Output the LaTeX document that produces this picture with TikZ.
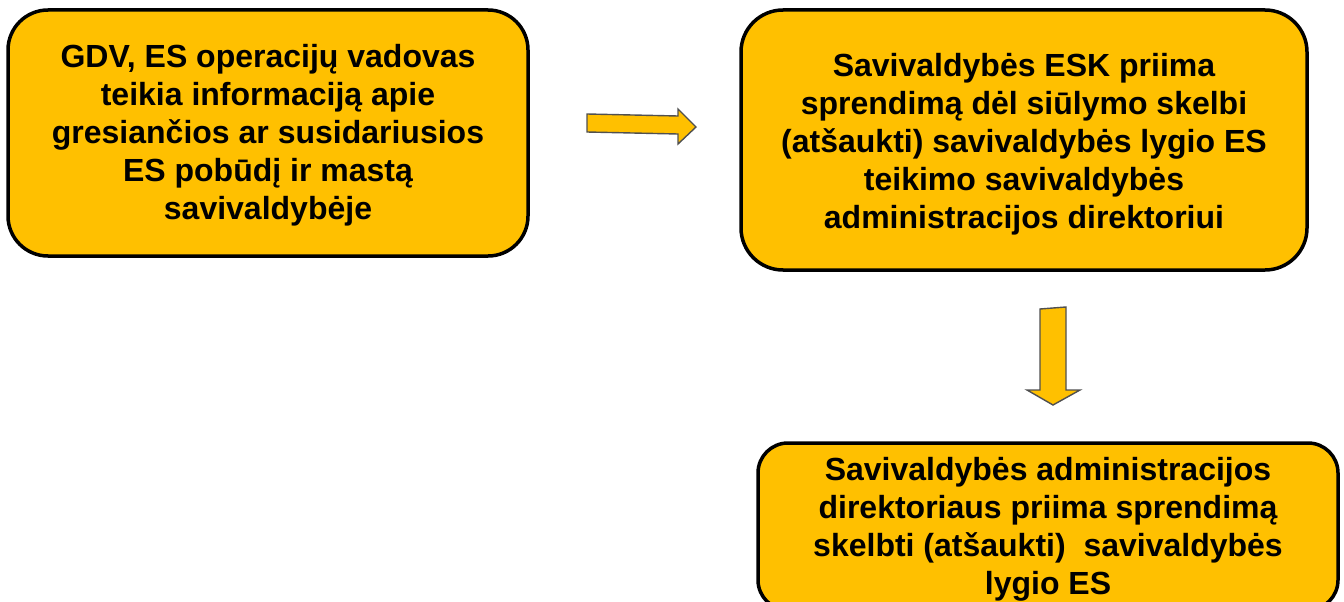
\documentclass[tikz,border=0pt]{standalone}
\usepackage{fontspec}
\setmainfont{Liberation Sans}
\definecolor{gold}{HTML}{FFC000}
\definecolor{arrowedge}{HTML}{505050}
\begin{document}
\begin{tikzpicture}[x=1pt,y=-1pt,
  box/.style={draw=black, line width=3.5pt, fill=gold, inner sep=0pt},
  boxtext/.style={align=center, font=\fontsize{32}{38}\selectfont\bfseries, inner sep=0pt},
  blockarrow/.style={draw=arrowedge, line width=1.4pt, fill=gold, line join=miter}]
\useasboundingbox (0,0) rectangle (1344,602);
\begin{scope}
\clip (0,0) rectangle (1344,602);
\node[box, rounded corners=40pt, minimum width=520pt, minimum height=246pt] (b1) at (268,133) {};
\node[boxtext] (b1t) at ([yshift=-2pt]b1.center)
  {GDV, ES operacijų vadovas\\teikia informaciją apie\\gresiančios ar susidariusios\\ES pobūdį ir mastą\\savivaldybėje};
\node[box, rounded corners=42pt, minimum width=566pt, minimum height=260pt] (b2) at (1024,140) {};
\node[boxtext] (b2t) at ([yshift=-4.5pt]b2.center)
  {Savivaldybės ESK priima\\sprendimą dėl siūlymo skelbi\\(atšaukti) savivaldybės lygio ES\\teikimo savivaldybės\\administracijos direktoriui};
\node[box, rounded corners=30pt, minimum width=580pt, minimum height=167pt] (b3) at (1048,526.5) {};
\node[boxtext] (b3t) at ([yshift=-3pt]b3.center)
  {Savivaldybės administracijos\\direktoriaus priima sprendimą\\skelbti (atšaukti)\ \ savivaldybės\\lygio ES};
\end{scope}
% horizontal block arrow
\coordinate (h1) at (587,114);
\draw[blockarrow] (h1) -- (678,116) -- (678,109) -- (696,127) -- (678,144) -- (678,134) -- (587,132) -- cycle;
% vertical block arrow
\coordinate (v1) at (1040,309);
\draw[blockarrow] (v1) -- (1066,307) -- (1066,390) -- (1080,390) -- (1053,405) -- (1027,390) -- (1040,390) -- cycle;
\end{tikzpicture}
\end{document}
